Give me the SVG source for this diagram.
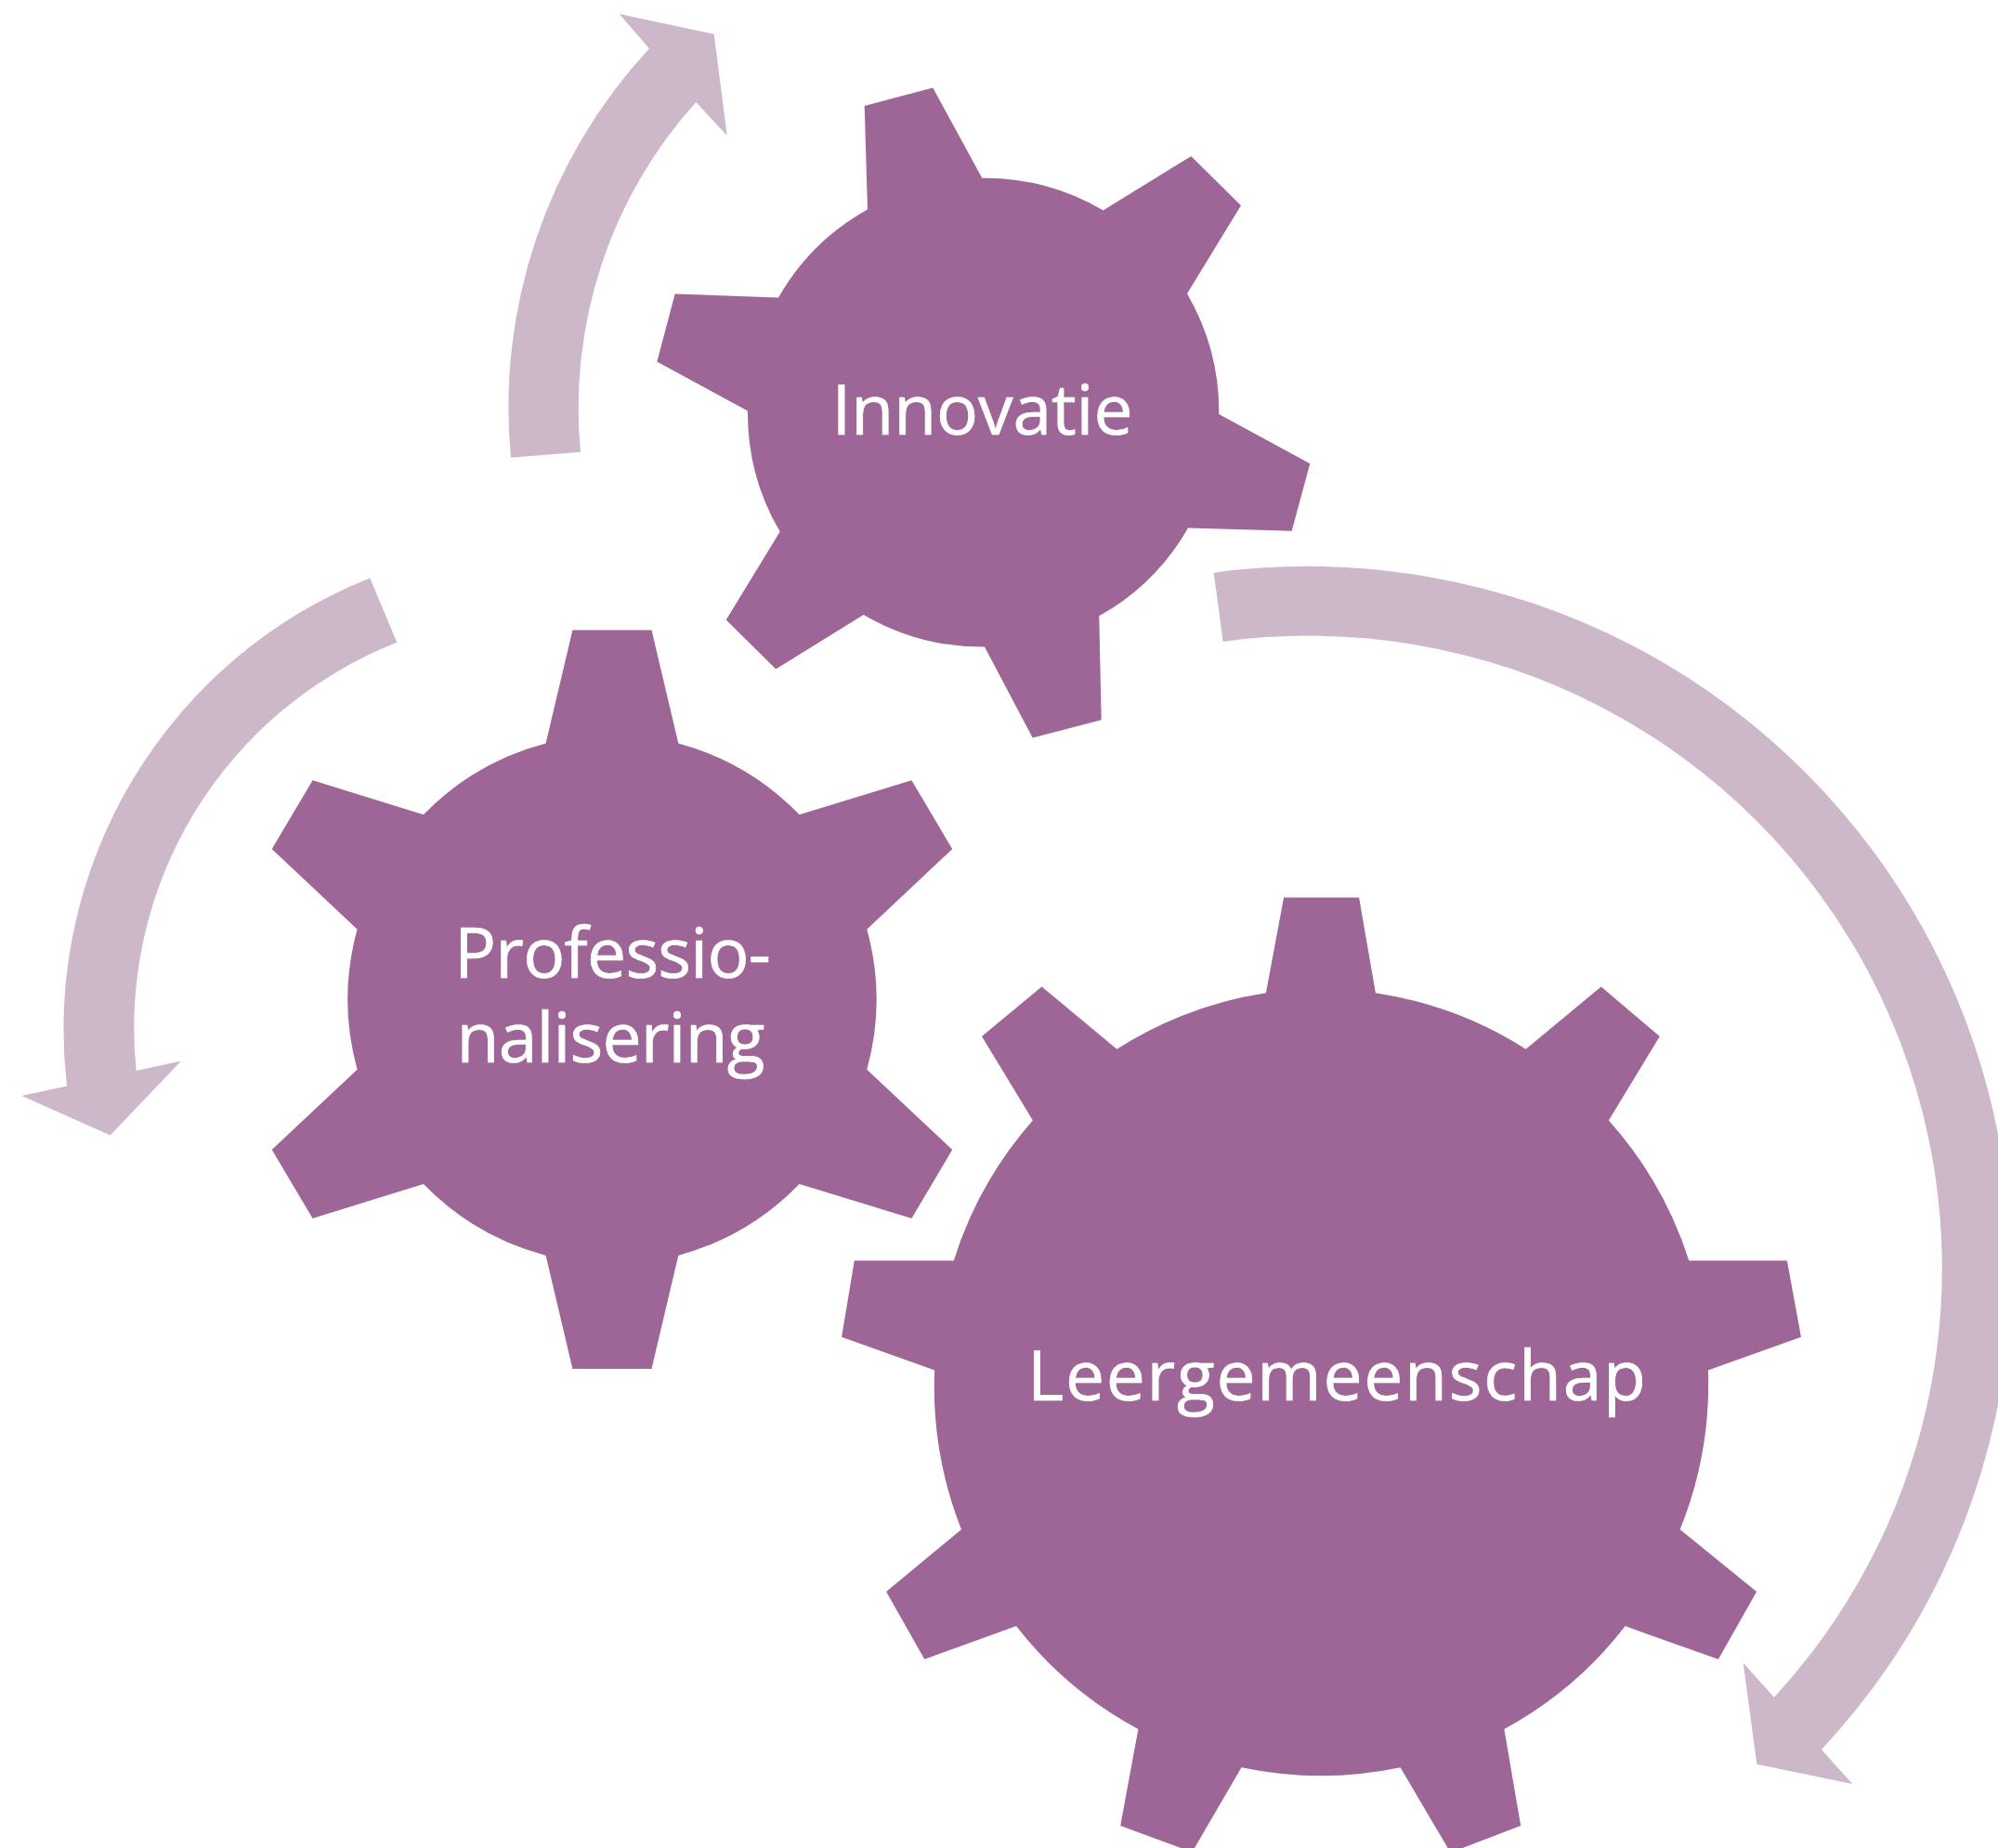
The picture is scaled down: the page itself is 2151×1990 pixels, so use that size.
<svg xmlns="http://www.w3.org/2000/svg" width="2151" height="1990" viewBox="0 0 2151 1990">
<style>
.gear{fill:#9e6696}
.arrow{fill:#cdb8ca}
.label{font-family:"Open Sans","Noto Sans","Liberation Sans",sans-serif;font-size:75px;fill:#fff;stroke:#fff;stroke-width:.7}
</style>
<rect width="2151" height="1990" fill="#fff"/>
<g id="connectors">
<path class="arrow" d="M550 492.7A568 568 0 0 1 699 52.3L666.7 15L768.7 36.7L782.7 146L749.3 110A492 492 0 0 0 625 486.7Z"/>
<path class="arrow" d="M398.3 622.4A523 523 0 0 0 72 1169.4L23.3 1180L118.7 1222.4L195 1142.4L146.7 1153A446 446 0 0 1 427.3 691.8Z"/>
<path class="arrow" d="M1306.7 616.7A757 757 0 0 1 1961 1884L1994.2 1921L1891.4 1899.7L1876.7 1790.7L1910 1827.7A681 681 0 0 0 1316.7 691Z"/>
</g>
<g id="innovatie">
<path class="gear" d="M930.7 113.9L1004.3 94.6L1057.3 191.8A252.4 252.4 0 0 1 1187.7 226.5L1282.3 168.2L1336 221.2L1278 316.3A252.4 252.4 0 0 1 1312.3 446.1L1410.3 499.2L1390.7 571.8L1279 568.6A252.4 252.4 0 0 1 1183.3 663.3L1185.7 775.3L1111.7 794.5L1060 696.6A252.4 252.4 0 0 1 929.7 662L835.3 720.4L781.7 667.6L839.7 572.6A252.4 252.4 0 0 1 805 442.6L707.3 389.4L726.7 316.4L838 320.5A252.4 252.4 0 0 1 934 225.4Z"/>
<text class="label" x="895.5" y="468" textLength="324" lengthAdjust="spacing">Innovatie</text>
</g>
<g id="professionalisering">
<path class="gear" d="M616.4 678.4L701.5 678.4L730.3 800.5A284 284 0 0 1 860.6 877.3L981.4 840.2L1025.2 914.3L933.3 1000.7A284 284 0 0 1 933.3 1151.7L1025.2 1238.1L981.4 1312.1L860.6 1275.1A284 284 0 0 1 730.3 1351.9L701.5 1474L616.4 1474L587.6 1351.9A284 284 0 0 1 455.9 1275.1L336.6 1312.1L292.7 1238.1L384.6 1151.7A284 284 0 0 1 384.6 1000.7L292.7 914.3L336.6 840.2L455.9 877.3A284 284 0 0 1 587.6 800.5Z"/>
<text class="label"><tspan x="489" y="1052.5" textLength="341" lengthAdjust="spacing">Professio-</tspan><tspan x="491.5" y="1144" textLength="332" lengthAdjust="spacing">nalisering</tspan></text>
</g>
<g id="leergemeenschap">
<path class="gear" d="M1382.1 966.4L1463.1 966.4L1480.9 1069.3A417 417 0 0 1 1642.7 1129.7L1723.7 1062.5L1786.8 1116L1731.9 1206.5A417 417 0 0 1 1818.3 1357.4L1923.9 1357.4L1939 1439.7L1838.9 1475.4A417 417 0 0 1 1808.7 1646.9L1891.1 1714.1L1849.9 1786.8L1749.7 1751.1A417 417 0 0 1 1619.4 1862L1637.2 1966L1574.6 1990L1558.7 1990L1507.6 1903.3A417 417 0 0 1 1336.5 1903.3L1286 1990L1271.3 1990L1206.2 1966L1225.4 1862A417 417 0 0 1 1094 1751.1L995.3 1786.8L954.1 1714.1L1035 1646.9A417 417 0 0 1 1006.2 1475.4L906.1 1439.7L919.8 1357.4L1026.8 1357.4A417 417 0 0 1 1111.9 1206.5L1057 1116L1121.5 1062.5L1202.4 1129.7A417 417 0 0 1 1362.9 1069.3Z"/>
<text class="label" x="1106" y="1507.5" textLength="666" lengthAdjust="spacing">Leergemeenschap</text>
</g>
</svg>
